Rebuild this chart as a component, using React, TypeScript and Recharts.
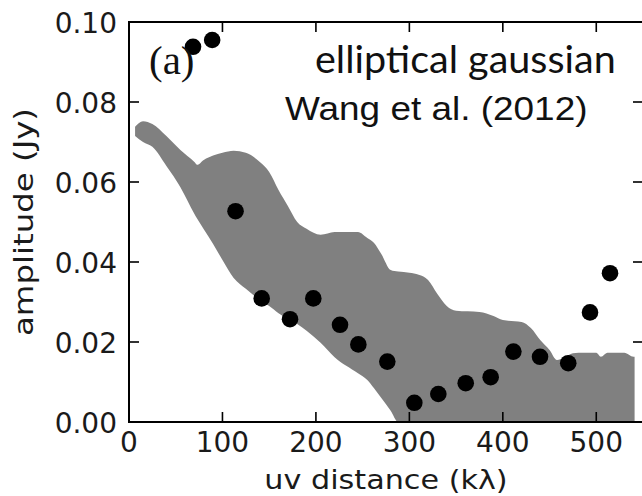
import React from 'react';
import { ComposedChart, Area, Scatter, XAxis, YAxis } from 'recharts';

// model band (lower / upper amplitude) sampled along uv distance
const bandX = [6.5, 15, 25, 40, 55, 70, 73, 80, 90, 100, 112, 125, 140, 150, 160, 170, 180, 190, 205, 220, 245, 255, 262, 270, 280, 288, 300, 310, 320, 330, 340, 350, 375, 390, 400, 420, 430, 440, 450, 458, 465, 475, 487, 500, 505, 512, 530, 540, 541];
const bandHigh = [0.0738, 0.0752, 0.0745, 0.0715, 0.068, 0.065, 0.0643, 0.0655, 0.0666, 0.0673, 0.0678, 0.0673, 0.065, 0.0625, 0.058, 0.054, 0.05, 0.0483, 0.0468, 0.0475, 0.0475, 0.046, 0.0448, 0.042, 0.038, 0.0376, 0.0373, 0.0368, 0.0355, 0.032, 0.029, 0.0278, 0.0275, 0.0265, 0.0255, 0.025, 0.0235, 0.0205, 0.018, 0.0155, 0.016, 0.0172, 0.0173, 0.0173, 0.0163, 0.0173, 0.0173, 0.0163, 0.0163];
const bandLow = [0.0715, 0.07, 0.0688, 0.064, 0.0587, 0.052, 0.0508, 0.0482, 0.0445, 0.0405, 0.036, 0.0333, 0.0305, 0.029, 0.0272, 0.0258, 0.0245, 0.0228, 0.0198, 0.0162, 0.0122, 0.0105, 0.0085, 0.006, 0.0028, 0, 0, 0, 0, 0, 0, 0, 0, 0, 0, 0, 0, 0, 0, 0, 0, 0, 0, 0, 0, 0, 0, 0, 0];

// measured visibilities
const pointX = [68.5, 89, 114, 142, 172.3, 197.2, 225.8, 245.4, 276.4, 305.3, 331, 360.3, 387, 411.3, 439.8, 470, 493.3, 514.7];
const pointY = [0.0938, 0.0955, 0.0527, 0.0309, 0.0257, 0.0309, 0.0243, 0.0194, 0.0151, 0.0048, 0.007, 0.0097, 0.0112, 0.0176, 0.0163, 0.0147, 0.0274, 0.0372];

const xTicks = [0, 100, 200, 300, 400, 500];
const yTicks = [0, 0.02, 0.04, 0.06, 0.08, 0.1];
const xMax = 550;
const yMax = 0.1;

const bandData = bandX.map((x, i) => ({ x, band: [bandLow[i], bandHigh[i]] }));
const pointData = pointX.map((x, i) => ({ x, y: pointY[i] }));

// chart / plot geometry
const W = 643;
const H = 496;
const PLOT_LEFT = 129;
const PLOT_TOP = 22;
const X_AXIS_H = 74;
const PLOT_W = W - PLOT_LEFT;
const PLOT_H = H - PLOT_TOP - X_AXIS_H;
const px = (v: number) => PLOT_LEFT + (v / xMax) * PLOT_W;
const py = (v: number) => PLOT_TOP + PLOT_H - (v / yMax) * PLOT_H;

const FONT = '"DejaVu Sans", sans-serif';
const TICK_LEN = 10;
const INK = '#000';

const BottomTick = (props: any) => {
  const { x, y, payload } = props;
  return (
    <text x={x} y={y + 30} textAnchor="middle" fontSize={28} fontFamily={FONT} fill="#1a1a1a">
      {payload.value}
    </text>
  );
};

const LeftTick = (props: any) => {
  const { x, y, payload } = props;
  return (
    <text x={x - 12} y={y + 10.5} textAnchor="end" fontSize={28} fontFamily={FONT} fill="#1a1a1a">
      {Number(payload.value).toFixed(2)}
    </text>
  );
};

const Dot = (props: any) => <circle cx={props.cx} cy={props.cy} r={8.3} fill="#000" />;

export default function App() {
  const bottom = PLOT_TOP + PLOT_H;
  return (
    <div style={{ position: 'absolute', left: 0, top: 0, width: 642, height: 496, overflow: 'hidden', background: '#fff' }}>
      <ComposedChart width={W} height={H} data={bandData} margin={{ top: PLOT_TOP, right: 0, bottom: 0, left: 0 }}>
        <XAxis dataKey="x" type="number" domain={[0, xMax]} ticks={xTicks} interval={0} height={X_AXIS_H}
          tickSize={0} tickMargin={0} tickLine={false} tick={<BottomTick />}
          stroke={INK} axisLine={{ stroke: INK, strokeWidth: 2 }} />
        <YAxis type="number" domain={[0, yMax]} ticks={yTicks} interval={0} width={PLOT_LEFT}
          tickSize={0} tickMargin={0} tickLine={false} tick={<LeftTick />}
          stroke={INK} axisLine={{ stroke: INK, strokeWidth: 2 }} />
        <Area type="monotone" dataKey="band" stroke="none" fill="#808080" fillOpacity={1} isAnimationActive={false} />
        <Scatter data={pointData} dataKey="y" shape={<Dot />} isAnimationActive={false} />
      </ComposedChart>
      <svg width={642} height={496} style={{ position: 'absolute', left: 0, top: 0, pointerEvents: 'none' }}>
        {/* frame (four spines) with inward ticks */}
        <rect x={PLOT_LEFT - 1} y={PLOT_TOP - 1} width={2} height={PLOT_H + 2} fill={INK} />
        <rect x={PLOT_LEFT - 1} y={bottom - 1} width={PLOT_W + 2} height={2} fill={INK} />
        <rect x={PLOT_LEFT - 1} y={PLOT_TOP - 1} width={PLOT_W + 2} height={2} fill={INK} />
        <rect x={W - 1} y={PLOT_TOP - 1} width={2} height={PLOT_H + 2} fill={INK} />
        {xTicks.map((t) => (
          <g key={`xt${t}`}>
            <rect x={px(t) - 0.8} y={bottom - TICK_LEN} width={1.6} height={TICK_LEN} fill={INK} />
            <rect x={px(t) - 0.8} y={PLOT_TOP} width={1.6} height={TICK_LEN} fill={INK} />
          </g>
        ))}
        {yTicks.map((t) => (
          <g key={`yt${t}`}>
            <rect x={PLOT_LEFT} y={py(t) - 0.8} width={TICK_LEN} height={1.6} fill={INK} />
            <rect x={W - TICK_LEN} y={py(t) - 0.8} width={TICK_LEN} height={1.6} fill={INK} />
          </g>
        ))}
        {/* axis titles */}
        <g transform="translate(386,489) scale(1.12,1)">
          <text x={0} y={0} textAnchor="middle" fontSize={27} fontFamily={FONT} fill="#1a1a1a">uv distance (kλ)</text>
        </g>
        <g transform="translate(33,222) rotate(-90) scale(1.2,1)">
          <text x={0} y={0} textAnchor="middle" fontSize={27} fontFamily={FONT} fill="#1a1a1a">amplitude (Jy)</text>
        </g>
        {/* annotations */}
        <g transform="translate(149,74) scale(1.05,1)">
          <text x={0} y={0} fontSize={39} fontFamily='"Liberation Serif", serif' fill="#111">(a)</text>
        </g>
        <text x={315} y={73} fontSize={39.5} fontFamily='Lato, sans-serif' fill="#111">elliptical gaussian</text>
        <g transform="translate(285,120) scale(1.12,1)">
          <text x={0} y={0} fontSize={33} fontFamily='"Liberation Sans", Arial, sans-serif' fill="#111">Wang et al. (2012)</text>
        </g>
      </svg>
    </div>
  );
}
